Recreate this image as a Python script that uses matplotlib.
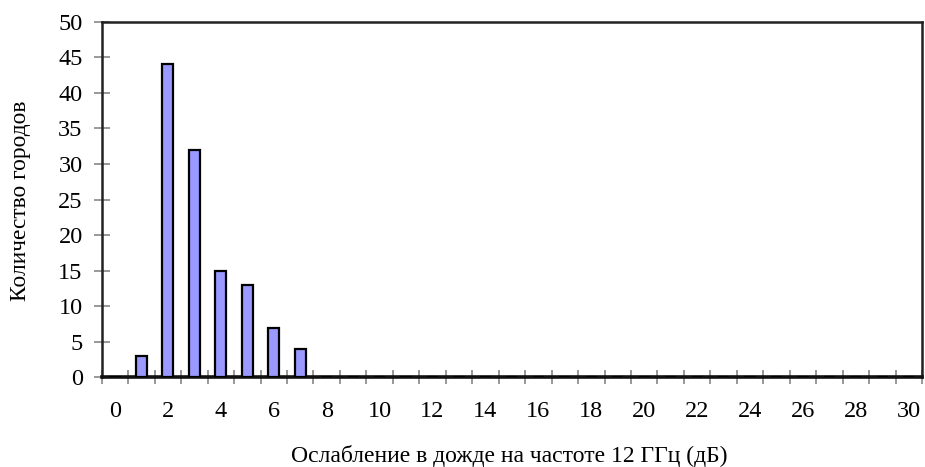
import matplotlib.pyplot as plt
import numpy as np
from matplotlib.ticker import FixedLocator

# rain attenuation histogram: number of cities per attenuation value
attenuation_db = list(range(0, 31))
city_counts = [0, 3, 44, 32, 15, 13, 7, 4] + [0] * 23
x_labels = [str(v) if v % 2 == 0 else "" for v in attenuation_db]
y_ticks = list(range(0, 51, 5))

plt.rcParams["font.family"] = ["Liberation Serif", "DejaVu Serif"]

fig = plt.figure(figsize=(9.25, 4.67), dpi=100)
ax = fig.add_axes([0.110, 0.1917, 0.8868, 0.7618])

pos = np.arange(len(attenuation_db))
ax.bar(pos, city_counts, width=0.42, color="#9999ff", edgecolor="black", linewidth=1.6, zorder=3)

ax.set_xlim(-0.5, len(attenuation_db) - 0.5)
ax.set_ylim(0, 50)

# category labels without marks, marks drawn between categories
ax.set_xticks(pos)
ax.set_xticklabels(x_labels, fontsize=17.5)
ax.xaxis.set_minor_locator(FixedLocator(np.arange(-0.5, len(attenuation_db), 1.0)))
ax.tick_params(axis="x", which="major", length=0, pad=17)
ax.tick_params(axis="x", which="minor", direction="inout", length=10, width=1.2, color="#888888")

ax.set_yticks(y_ticks)
ax.tick_params(axis="y", which="major", direction="inout", length=11.5, width=1.2,
               color="#888888", pad=8, labelsize=17.5)

for side in ["top", "right", "left"]:
    ax.spines[side].set_linewidth(1.8)
    ax.spines[side].set_color("#222222")
ax.spines["bottom"].set_linewidth(2.6)
ax.spines["bottom"].set_color("#111111")

fig.text(0.551, 0.010, "Ослабление в дожде на частоте 12 ГГц (дБ)", fontsize=17,
         ha="center", va="baseline")
fig.text(0.022, 0.570, "Количество городов", fontsize=16.8, rotation=90,
         ha="center", va="center")

fig.savefig("out.png", dpi=100)
